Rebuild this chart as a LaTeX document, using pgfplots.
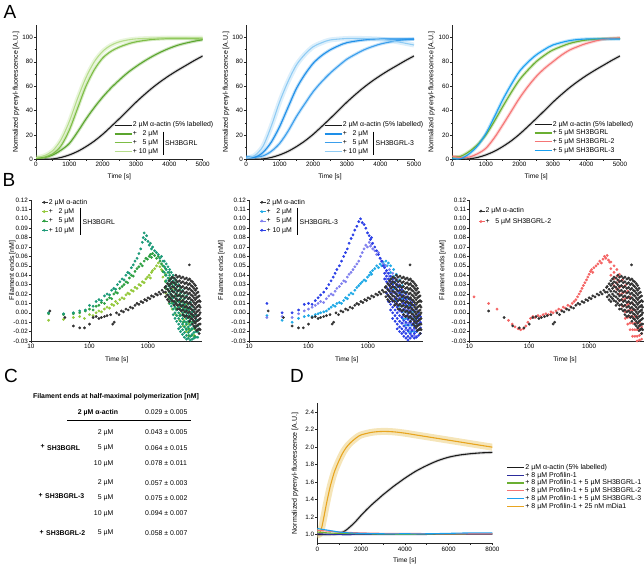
\documentclass[border=0pt]{standalone}
\usepackage{pgfplots}
\pgfplotsset{compat=1.18}
\usepackage{pgfplotstable}
\usepackage{fontspec}
\setmainfont{Liberation Sans}
\definecolor{ctrl}{HTML}{1A1A1A}
\definecolor{gA}{HTML}{5BA52E}\definecolor{gB}{HTML}{7DBD45}\definecolor{gC}{HTML}{B5DD8A}
\definecolor{bA}{HTML}{3A9EEC}\definecolor{bB}{HTML}{1E8FE8}\definecolor{bC}{HTML}{8FCBF3}
\definecolor{gT}{HTML}{6BAF32}\definecolor{rT}{HTML}{F57575}\definecolor{bT}{HTML}{1AA0F0}
\definecolor{kk}{HTML}{333333}
\definecolor{lA}{HTML}{95C93D}\definecolor{lB}{HTML}{2EA043}\definecolor{lC}{HTML}{1C9A78}
\definecolor{sA}{HTML}{1FA9E6}\definecolor{sB}{HTML}{8080EE}\definecolor{sC}{HTML}{2B3FE6}
\definecolor{rr}{HTML}{F46464}
\definecolor{dpro}{HTML}{2C2C9C}\definecolor{dor}{HTML}{E8A520}\definecolor{dband}{HTML}{F3DFA8}

\pgfplotsset{
 common/.style={scale only axis, anchor=south west, axis x line*=bottom, axis y line*=left,
  axis line style={-, line width=0.5pt, black!85}, tick align=outside,
  major tick length=2pt, minor tick length=1.2pt, every tick/.style={black!85, line width=0.4pt},
  tick label style={font=\fontsize{6.3}{7}\selectfont, inner sep=1pt},
  xlabel style={font=\fontsize{6.6}{7.5}\selectfont},
  ylabel style={font=\fontsize{7}{8}\selectfont},
  /pgf/number format/assume math mode=true, /pgf/number format/1000 sep={},
  legend style={draw=none, fill=none, inner sep=0pt, outer sep=0pt, row sep=1.2pt,
   font=\fontsize{6.9}{8}\selectfont, nodes={inner sep=0.5pt, text height=5pt, text depth=1.5pt}},
  legend cell align=left},
 Abase/.style={common, xmin=0, xmax=5000, ymin=0, ymax=110, xtick={0,1000,...,5000},
  ytick={0,20,...,100}, minor x tick num=1, minor y tick num=1, xlabel={Time [s]},
  ylabel={Normalized pyrenyl-fluorescence [A.U.]},
  legend image code/.code={\draw[##1, line width=1.3pt] (0pt,0pt) -- (17pt,0pt);}},
 Bbase/.style={common, xmin=10, xmax=8000, ymin=-0.03, ymax=0.12,
  xtick={10,100,1000}, xticklabels={10,100,1000},
  minor xtick={20,30,40,50,60,70,80,90,200,300,400,500,600,700,800,900,2000,3000,4000,5000,6000,7000,8000},
  ytick={-0.03,-0.02,-0.01,0,0.01,0.02,0.03,0.04,0.05,0.06,0.07,0.08,0.09,0.10,0.11,0.12},
  yticklabel style={/pgf/number format/.cd, fixed, fixed zerofill, precision=2},
  scaled y ticks=false, xlabel={Time [s]}, ylabel={Filament ends [nM]},
  legend style={row sep=1.8pt},
  legend image code/.code={\draw[##1] plot coordinates {(2pt,0pt)}; \path (0pt,0pt) -- (6pt,0pt);}},
 dot/.style={only marks, mark=*, mark size=1.2pt},
 band/.style={line width=3.2pt, opacity=0.3, smooth, forget plot},
 crv/.style={line width=1.1pt, smooth, forget plot},
}
\newcommand\blob[2]{\pgfplotsinvokeforeach{a,b,c,d,e,f,g,h,i,j}{\addplot[dot,#2,forget plot] table[x=t,y=##1]{#1};}}

% ---------- Panel A data ----------
\pgfplotstableread{
t v
0 0
250 0
500 0.3
750 1.5
1000 3.6
1250 6.5
1500 10.4
1750 15
2000 20.5
2250 26.8
2500 33.3
2750 40
3000 46.8
3250 53
3500 58.8
3750 64
4000 68.7
4250 73
4500 77
4750 81
5000 84.7
}\actin
\pgfplotstableread{
t v
0 1
250 1.5
500 3.5
750 7.5
1000 13
1250 22.5
1500 33
1750 42.5
2000 51
2250 58.5
2500 65
2750 71
3000 76
3250 80.5
3500 84.5
3750 88
4000 91
4250 93.5
4500 95.3
4750 96.8
5000 98
}\aGa
\pgfplotstableread{
t v
0 0.5
250 1.5
500 4.5
750 11
1000 24
1250 42
1500 60
1750 73.5
2000 83
2250 88.5
2500 92
2750 94.5
3000 96.3
3500 98.3
4000 99
4500 99
5000 98.7
}\aGb
\pgfplotstableread{
t v
0 1.5
250 3
500 7
750 16
1000 31
1250 50
1500 67
1750 80
2000 88.5
2250 93.5
2500 96.3
2750 97.8
3000 98.7
3500 99.3
4000 99.5
5000 99.5
}\aGc
\pgfplotstableread{
t v
0 2
250 1.8
500 2.7
750 6.5
1000 13
1250 23
1500 35
1750 45.5
2000 55.5
2250 63.5
2500 70.5
2750 76.5
3000 82
3250 86
3500 89.6
3750 92.3
4000 94.5
4250 96
4500 97.3
4750 98
5000 98.4
}\aBa
\pgfplotstableread{
t v
0 1.5
250 1.5
500 5.5
750 14
1000 26.8
1250 42.5
1500 58
1750 69.5
2000 78.7
2250 85
2500 89.6
2750 93
3000 95.6
3500 97.8
4000 98.6
5000 98.6
}\aBb
\pgfplotstableread{
t v
0 1
250 3
500 10.4
750 27
1000 47
1250 63.7
1500 77.3
1750 86
2000 92.3
2250 95.5
2500 97.8
3000 99
3500 99
4000 98.4
4500 96.4
5000 93.7
}\aBc
\pgfplotstableread{
t v
0 2
250 2.5
500 6.3
750 12
1000 20
1250 31
1500 43
1750 54.5
2000 65
2250 73
2500 80
2750 85.3
3000 89.6
3500 95
4000 97.8
4500 98.8
5000 99.2
}\aTg
\pgfplotstableread{
t v
0 2.5
250 1.5
500 1.8
750 4.5
1000 9
1250 17.5
1500 28
1750 39
2000 50
2250 59.5
2500 67.8
2750 74.5
3000 80
3250 85.3
3500 89.6
3750 92.5
4000 95
4500 98.4
5000 99.5
}\aTr
\pgfplotstableread{
t v
0 0.5
250 0.5
500 4.4
750 11
1000 21
1250 34.5
1500 48.6
1750 61
2000 72
2250 79.5
2500 85.5
2750 90
3000 93.7
3500 97.3
4000 98.6
5000 98.6
}\aTb

% ---------- Panel B data ----------
\pgfplotstableread[row sep=\\]{t v\\
21 0.002\\ 38 -0.005\\ 53 -0.014\\ 68 -0.016\\ 82 -0.016\\ 100 -0.012\\ 115 -0.005\\ 130 -0.004\\
145 -0.006\\ 160 -0.005\\ 180 -0.004\\ 200 -0.003\\ 230 -0.002\\ 250 -0.012\\ 265 -0.010\\ 290 0.000\\
320 -0.002\\ 350 0.002\\ 380 0.001\\ 420 0.004\\ 460 0.003\\ 500 0.006\\ 550 0.005\\ 600 0.008\\
650 0.010\\ 700 0.009\\ 760 0.012\\ 820 0.011\\ 880 0.014\\ 950 0.013\\ 1000 0.016\\ 1080 0.015\\
1150 0.018\\ 1250 0.017\\ 1350 0.020\\ 1450 0.019\\ 1550 0.022\\ 1650 0.020\\ 1750 0.024\\ 1850 0.022\\
1950 0.027\\ 5100 0.051\\}\kTr
\pgfplotstableread{
t a b c d e f g h i j
2000 0.028 0.022 0.017 nan nan nan nan nan nan nan
2150 0.031 0.025 0.019 0.014 nan nan nan nan nan nan
2300 0.034 0.029 0.023 0.017 0.012 nan nan nan nan nan
2450 0.036 0.031 0.026 0.020 0.015 nan nan nan nan nan
2600 0.038 0.033 0.028 0.023 0.018 0.013 nan nan nan nan
2800 0.037 0.032 0.027 0.022 0.017 0.012 0.008 nan nan nan
3000 0.040 0.035 0.030 0.025 0.020 0.015 0.010 nan nan nan
3200 0.038 0.033 0.028 0.023 0.018 0.013 0.008 0.004 nan nan
3450 0.039 0.034 0.029 0.024 0.019 0.014 0.009 0.004 nan nan
3700 0.037 0.032 0.027 0.022 0.017 0.012 0.007 0.002 nan nan
3950 0.038 0.033 0.028 0.023 0.018 0.013 0.008 0.003 -0.002 nan
4250 0.036 0.031 0.026 0.021 0.016 0.011 0.006 0.001 -0.004 nan
4550 0.037 0.032 0.027 0.022 0.017 0.012 0.007 0.002 -0.003 nan
4850 0.035 0.030 0.025 0.020 0.015 0.010 0.005 0.000 -0.005 nan
5150 0.036 0.031 0.026 0.021 0.016 0.011 0.006 0.001 -0.004 -0.009
5450 0.034 0.029 0.024 0.019 0.014 0.009 0.004 -0.001 -0.006 nan
5750 0.033 0.028 0.023 0.018 0.013 0.008 0.003 -0.002 -0.007 -0.012
6100 0.031 0.026 0.021 0.016 0.011 0.006 0.001 -0.004 -0.009 -0.014
6450 0.029 0.024 0.019 0.014 0.009 0.004 -0.001 -0.006 -0.011 -0.016
6800 0.026 0.021 0.016 0.011 0.006 0.001 -0.004 -0.009 -0.014 -0.019
7150 0.022 0.017 0.012 0.007 0.002 -0.003 -0.008 -0.013 -0.018 nan
7500 0.018 0.013 0.008 0.003 -0.002 -0.007 -0.012 -0.017 -0.022 nan
7800 0.012 0.006 0.000 -0.006 -0.012 -0.018 nan nan nan nan
}\kBl
% B1 light green 2 uM
\pgfplotstableread[row sep=\\]{t v\\
20 -0.008\\ 36 -0.007\\ 53 -0.005\\ 68 -0.004\\ 82 -0.006\\ 100 -0.002\\ 115 -0.003\\ 130 0.000\\
145 0.002\\ 160 0.001\\ 180 0.004\\ 200 0.006\\ 220 0.005\\ 240 0.009\\ 260 0.008\\ 280 0.012\\
300 0.010\\ 330 0.014\\ 360 0.016\\ 390 0.015\\ 420 0.019\\ 450 0.021\\ 480 0.020\\ 520 0.024\\
560 0.023\\ 600 0.027\\ 650 0.026\\ 700 0.030\\ 750 0.029\\ 800 0.033\\ 860 0.032\\ 920 0.036\\
980 0.038\\ 1050 0.040\\ 1100 0.037\\ 1150 0.043\\ 1200 0.045\\ 1300 0.047\\ 1400 0.050\\
1500 0.053\\ 1600 0.049\\ 1700 0.046\\}\lAt
\pgfplotstableread{
t a b c d e f g h i j
1800 0.044 0.038 nan nan nan nan nan nan nan nan
2000 0.041 0.034 0.027 0.021 nan nan nan nan nan nan
2300 0.037 0.030 0.023 0.016 0.010 nan nan nan nan nan
2600 0.032 0.025 0.018 0.011 0.004 nan nan nan nan nan
3000 0.026 0.019 0.012 0.005 -0.002 nan nan nan nan nan
3500 0.020 0.013 0.006 -0.001 -0.008 nan nan nan nan nan
4000 0.014 0.007 0.000 -0.007 -0.014 nan nan nan nan nan
4500 0.008 0.001 -0.006 -0.013 -0.020 nan nan nan nan nan
5000 0.002 -0.005 -0.012 -0.019 -0.025 nan nan nan nan nan
5600 -0.004 -0.011 -0.018 -0.024 nan nan nan nan nan nan
6200 -0.010 -0.017 -0.024 nan nan nan nan nan nan nan
}\lAb
% B1 green 5 uM
\pgfplotstableread[row sep=\\]{t v\\
20 -0.001\\ 36 -0.002\\ 53 -0.001\\ 68 0.000\\ 85 0.002\\ 100 0.004\\ 115 0.003\\ 130 0.007\\
145 0.008\\ 160 0.011\\ 180 0.010\\ 200 0.014\\ 220 0.016\\ 240 0.015\\ 260 0.020\\ 280 0.022\\
300 0.021\\ 330 0.026\\ 360 0.028\\ 390 0.030\\ 420 0.033\\ 450 0.032\\ 480 0.037\\ 520 0.040\\
560 0.039\\ 600 0.044\\ 650 0.047\\ 700 0.049\\ 750 0.052\\ 800 0.050\\ 860 0.055\\ 920 0.058\\
980 0.057\\ 1050 0.060\\ 1100 0.062\\ 1150 0.059\\ 1200 0.063\\ 1300 0.061\\ 1400 0.058\\
1500 0.060\\ 1600 0.055\\ 1700 0.052\\}\lBt
\pgfplotstableread{
t a b c d e f g h i j
1800 0.050 0.044 nan nan nan nan nan nan nan nan
2000 0.047 0.040 0.033 0.026 nan nan nan nan nan nan
2300 0.043 0.036 0.029 0.022 0.015 nan nan nan nan nan
2600 0.038 0.031 0.024 0.017 0.010 nan nan nan nan nan
3000 0.032 0.025 0.018 0.011 0.004 nan nan nan nan nan
3500 0.025 0.018 0.011 0.004 -0.003 nan nan nan nan nan
4000 0.018 0.011 0.004 -0.003 -0.010 nan nan nan nan nan
4500 0.011 0.004 -0.003 -0.010 -0.017 nan nan nan nan nan
5000 0.004 -0.003 -0.010 -0.017 -0.024 nan nan nan nan nan
5600 -0.003 -0.010 -0.017 -0.024 nan nan nan nan nan nan
6300 -0.010 -0.017 -0.025 nan nan nan nan nan nan nan
}\lBb
% B1 teal 10 uM
\pgfplotstableread[row sep=\\]{t v\\
20 0.000\\ 36 -0.001\\ 53 0.000\\ 68 0.002\\ 85 0.003\\ 100 0.008\\ 115 0.007\\ 130 0.012\\
145 0.014\\ 160 0.013\\ 180 0.018\\ 200 0.020\\ 220 0.019\\ 240 0.024\\ 260 0.026\\ 280 0.025\\
300 0.030\\ 330 0.033\\ 360 0.036\\ 390 0.035\\ 420 0.040\\ 450 0.043\\ 480 0.042\\ 520 0.048\\
560 0.051\\ 600 0.055\\ 650 0.058\\ 700 0.063\\ 750 0.068\\ 800 0.075\\ 830 0.080\\ 860 0.085\\
900 0.078\\ 950 0.082\\ 1000 0.076\\ 1050 0.072\\ 1100 0.074\\ 1150 0.068\\ 1200 0.070\\
1300 0.066\\ 1400 0.064\\ 1500 0.062\\ 1600 0.058\\ 1700 0.060\\ 1800 0.055\\}\lCt
\pgfplotstableread{
t a b c d e f g h i j
1900 0.055 0.049 0.043 nan nan nan nan nan nan nan
2050 0.052 0.046 0.040 0.034 0.028 nan nan nan nan nan
2200 0.049 0.043 0.037 0.031 0.025 0.019 nan nan nan nan
2350 0.046 0.040 0.034 0.028 0.022 0.016 0.010 nan nan nan
2500 0.043 0.037 0.031 0.025 0.019 0.013 0.007 nan nan nan
2700 0.040 0.034 0.028 0.022 0.016 0.010 0.004 -0.002 nan nan
2900 0.036 0.030 0.024 0.018 0.012 0.006 0.000 -0.006 nan nan
3100 0.033 0.027 0.021 0.015 0.009 0.003 -0.003 -0.009 nan nan
3350 0.030 0.024 0.018 0.012 0.006 0.000 -0.006 -0.012 -0.017 nan
3600 0.027 0.021 0.015 0.009 0.003 -0.003 -0.009 -0.015 -0.020 nan
3900 0.024 0.018 0.012 0.006 0.000 -0.006 -0.012 -0.018 -0.023 nan
4200 0.021 0.015 0.009 0.003 -0.003 -0.009 -0.015 -0.021 -0.026 nan
4550 0.018 0.012 0.006 0.000 -0.006 -0.012 -0.018 -0.024 -0.028 nan
4900 0.015 0.009 0.003 -0.003 -0.009 -0.015 -0.021 -0.027 nan nan
5300 0.011 0.005 -0.001 -0.007 -0.013 -0.019 -0.025 -0.029 nan nan
5700 0.007 0.001 -0.005 -0.011 -0.017 -0.023 -0.028 nan nan nan
6100 0.003 -0.003 -0.009 -0.015 -0.021 -0.027 nan nan nan nan
6600 -0.002 -0.008 -0.014 -0.020 -0.026 nan nan nan nan nan
7100 -0.008 -0.014 -0.020 -0.026 nan nan nan nan nan nan
}\lCb
% B2 sky 2 uM
\pgfplotstableread[row sep=\\]{t v\\
20 -0.003\\ 36 -0.008\\ 53 -0.010\\ 68 -0.006\\ 85 -0.004\\ 100 -0.003\\ 115 -0.004\\ 130 -0.002\\
145 -0.001\\ 160 0.000\\ 180 0.001\\ 200 0.002\\ 220 0.004\\ 240 0.006\\ 260 0.008\\ 280 0.007\\
300 0.010\\ 330 0.011\\ 360 0.010\\ 390 0.013\\ 420 0.016\\ 450 0.015\\ 480 0.019\\ 520 0.021\\
560 0.020\\ 600 0.024\\ 650 0.027\\ 700 0.029\\ 750 0.031\\ 800 0.033\\ 860 0.035\\ 920 0.034\\
980 0.038\\ 1050 0.040\\ 1100 0.043\\ 1150 0.041\\ 1200 0.045\\ 1300 0.047\\ 1400 0.050\\
1500 0.048\\ 1600 0.052\\ 1700 0.050\\ 1800 0.054\\ 1900 0.051\\ 2000 0.055\\ 2100 0.050\\ 2200 0.053\\}\sAt
\pgfplotstableread{
t a b c d e f g h i j
2400 0.050 0.043 0.036 nan nan nan nan nan nan nan
2700 0.046 0.039 0.032 0.025 nan nan nan nan nan nan
3000 0.041 0.034 0.027 0.020 0.013 nan nan nan nan nan
3400 0.035 0.028 0.021 0.014 0.007 nan nan nan nan nan
3800 0.029 0.022 0.015 0.008 0.001 -0.006 nan nan nan nan
4300 0.022 0.015 0.008 0.001 -0.006 -0.013 nan nan nan nan
4800 0.015 0.008 0.001 -0.006 -0.013 -0.020 nan nan nan nan
5400 0.008 0.001 -0.006 -0.013 -0.020 nan nan nan nan nan
6000 0.001 -0.006 -0.013 -0.020 nan nan nan nan nan nan
6600 -0.006 -0.013 -0.020 nan nan nan nan nan nan nan
}\sAb
% B2 lavender 5 uM
\pgfplotstableread[row sep=\\]{t v\\
20 -0.005\\ 36 -0.004\\ 53 -0.005\\ 68 -0.001\\ 85 0.002\\ 100 0.004\\ 115 0.006\\ 130 0.008\\
145 0.010\\ 160 0.012\\ 180 0.011\\ 200 0.015\\ 220 0.018\\ 240 0.020\\ 260 0.019\\ 280 0.023\\
300 0.026\\ 330 0.028\\ 360 0.031\\ 390 0.034\\ 420 0.033\\ 450 0.038\\ 480 0.041\\ 520 0.043\\
560 0.046\\ 600 0.049\\ 650 0.052\\ 700 0.055\\ 750 0.060\\ 800 0.064\\ 860 0.068\\ 920 0.072\\
980 0.070\\ 1050 0.075\\ 1100 0.071\\ 1150 0.073\\ 1200 0.068\\ 1300 0.066\\ 1400 0.062\\
1500 0.064\\ 1600 0.058\\ 1700 0.055\\ 1800 0.052\\}\sBt
\pgfplotstableread{
t a b c d e f g h i j
2000 0.050 0.043 0.036 nan nan nan nan nan nan nan
2300 0.046 0.039 0.032 0.025 nan nan nan nan nan nan
2600 0.042 0.035 0.028 0.021 0.014 nan nan nan nan nan
3000 0.036 0.029 0.022 0.015 0.008 nan nan nan nan nan
3400 0.030 0.023 0.016 0.009 0.002 nan nan nan nan nan
3800 0.024 0.017 0.010 0.003 -0.004 -0.011 nan nan nan nan
4300 0.017 0.010 0.003 -0.004 -0.011 -0.018 nan nan nan nan
4800 0.010 0.003 -0.004 -0.011 -0.018 nan nan nan nan nan
5400 0.003 -0.004 -0.011 -0.018 -0.024 nan nan nan nan nan
6000 -0.004 -0.011 -0.018 -0.024 nan nan nan nan nan nan
6600 -0.011 -0.018 -0.025 nan nan nan nan nan nan nan
}\sBb
% B2 blue 10 uM
\pgfplotstableread[row sep=\\]{t v\\
20 0.010\\ 36 0.000\\ 53 0.000\\ 68 0.003\\ 85 0.009\\ 100 0.010\\ 115 0.009\\ 130 0.013\\
145 0.016\\ 160 0.019\\ 180 0.022\\ 200 0.026\\ 220 0.030\\ 240 0.034\\ 260 0.038\\ 280 0.042\\
300 0.046\\ 330 0.050\\ 360 0.055\\ 390 0.060\\ 420 0.064\\ 450 0.068\\ 480 0.074\\ 520 0.079\\
560 0.083\\ 600 0.088\\ 650 0.092\\ 700 0.097\\ 750 0.100\\ 800 0.096\\ 860 0.094\\ 920 0.090\\
980 0.085\\ 1050 0.082\\ 1100 0.078\\ 1150 0.080\\ 1200 0.074\\ 1300 0.070\\ 1400 0.066\\
1500 0.062\\ 1600 0.058\\ 1700 0.055\\ 1800 0.050\\}\sCt
\pgfplotstableread{
t a b c d e f g h i j
1900 0.048 0.042 0.036 nan nan nan nan nan nan nan
2050 0.045 0.039 0.033 0.027 0.021 nan nan nan nan nan
2200 0.042 0.036 0.030 0.024 0.018 0.012 nan nan nan nan
2400 0.039 0.033 0.027 0.021 0.015 0.009 0.003 nan nan nan
2600 0.036 0.030 0.024 0.018 0.012 0.006 0.000 -0.006 nan nan
2850 0.033 0.027 0.021 0.015 0.009 0.003 -0.003 -0.009 nan nan
3100 0.030 0.024 0.018 0.012 0.006 0.000 -0.006 -0.012 -0.017 nan
3400 0.027 0.021 0.015 0.009 0.003 -0.003 -0.009 -0.015 -0.020 nan
3700 0.025 0.019 0.013 0.007 0.001 -0.005 -0.011 -0.017 -0.022 nan
4000 0.022 0.016 0.010 0.004 -0.002 -0.008 -0.014 -0.020 -0.025 nan
4350 0.020 0.014 0.008 0.002 -0.004 -0.010 -0.016 -0.022 -0.027 nan
4700 0.017 0.011 0.005 -0.001 -0.007 -0.013 -0.019 -0.025 -0.029 nan
5100 0.014 0.008 0.002 -0.004 -0.010 -0.016 -0.022 -0.027 nan nan
5500 0.011 0.005 -0.001 -0.007 -0.013 -0.019 -0.025 nan nan nan
6000 0.008 0.002 -0.004 -0.010 -0.016 -0.022 -0.027 nan nan nan
6500 0.004 -0.002 -0.008 -0.014 -0.020 -0.026 nan nan nan nan
7100 0.000 -0.006 -0.012 -0.018 -0.024 nan nan nan nan nan
7600 -0.004 -0.010 -0.016 -0.022 nan nan nan nan nan nan
}\sCb
% B3 red
\pgfplotstableread[row sep=\\]{t v\\
12 0.017\\ 21 0.010\\ 29 0.004\\ 45 -0.008\\ 52 -0.012\\ 58 -0.015\\ 65 -0.017\\ 72 -0.018\\
80 -0.017\\ 88 -0.014\\ 95 -0.010\\ 105 -0.006\\ 115 -0.004\\ 125 -0.005\\ 140 -0.003\\ 155 -0.004\\
170 -0.002\\ 190 -0.001\\ 210 -0.002\\ 230 0.001\\ 250 0.000\\ 280 0.002\\ 310 0.004\\ 340 0.003\\
370 0.006\\ 400 0.005\\ 440 0.008\\ 480 0.007\\ 520 0.010\\ 560 0.012\\ 600 0.014\\ 640 0.017\\
680 0.020\\ 720 0.023\\ 760 0.026\\ 800 0.029\\ 850 0.032\\ 900 0.035\\ 950 0.038\\ 1000 0.041\\
1050 0.044\\ 1100 0.046\\ 1150 0.043\\ 1200 0.048\\ 1300 0.050\\ 1400 0.052\\ 1500 0.055\\
1600 0.053\\ 1700 0.057\\ 1800 0.060\\ 1900 0.058\\ 2000 0.061\\ 2100 0.056\\ 2200 0.054\\}\rTt
\pgfplotstableread{
t a b c d e f g h i j
2300 0.054 0.047 0.040 nan nan nan nan nan nan nan
2600 0.050 0.043 0.036 0.029 nan nan nan nan nan nan
2900 0.046 0.039 0.032 0.025 nan nan nan nan nan nan
3200 0.041 0.034 0.027 0.020 0.013 nan nan nan nan nan
3600 0.035 0.028 0.021 0.014 0.007 nan nan nan nan nan
4000 0.029 0.022 0.015 0.008 0.001 -0.006 nan nan nan nan
4400 0.023 0.016 0.009 0.002 -0.005 -0.012 nan nan nan nan
4800 0.017 0.010 0.003 -0.004 -0.011 -0.018 nan nan nan nan
5300 0.010 0.003 -0.004 -0.011 -0.018 -0.025 nan nan nan nan
5800 0.003 -0.004 -0.011 -0.018 -0.025 nan nan nan nan nan
6300 -0.004 -0.011 -0.018 -0.025 -0.030 nan nan nan nan nan
6900 -0.010 -0.017 -0.024 -0.029 nan nan nan nan nan nan
7500 -0.015 -0.022 -0.028 nan nan nan nan nan nan nan
}\rTb

% ---------- Panel D data ----------
\pgfplotstableread{
t v
0 1.0
400 1.0
800 1.005
1000 1.015
1250 1.04
1500 1.09
1750 1.15
2000 1.22
2250 1.285
2500 1.345
2750 1.40
3000 1.455
3250 1.505
3500 1.555
3750 1.60
4000 1.645
4500 1.725
5000 1.79
5500 1.845
6000 1.885
6500 1.91
7000 1.925
7500 1.935
8000 1.94
}\dK
\pgfplotstableread{
t v
0 1.0
100 1.01
200 1.08
300 1.2
400 1.33
500 1.45
600 1.56
700 1.65
800 1.73
1000 1.85
1200 1.95
1400 2.02
1600 2.07
1800 2.11
2000 2.14
2500 2.17
3000 2.18
3500 2.175
4000 2.16
4500 2.14
5000 2.12
5500 2.10
6000 2.08
6500 2.06
7000 2.04
7500 2.02
8000 2.00
}\dO
\pgfplotstableread{
t v
0 1.07
250 1.06
500 1.05
750 1.04
1000 1.03
1500 1.02
2000 1.015
3000 1.01
4000 1.01
5000 1.01
6000 1.015
7000 1.02
8000 1.02
}\dB
\pgfplotstableread{
t v
0 1.05
500 1.04
1000 1.03
1500 1.025
2000 1.02
3000 1.015
4000 1.015
5000 1.012
6000 1.01
7000 1.01
8000 1.01
}\dR
\pgfplotstableread{
t v
0 1.03
500 1.02
1000 1.015
2000 1.01
4000 1.005
8000 1.01
}\dG
\pgfplotstableread{
t v
0 1.01
1000 1.0
2000 1.0
8000 1.005
}\dP

\begin{document}
\begin{tikzpicture}
\useasboundingbox (0pt,0pt) rectangle (644pt,-566pt);
\tikzset{panel/.style={font=\fontsize{19}{19}\selectfont}}
\node[panel] at (10pt,-12pt) {A};
\node[panel] at (9pt,-180pt) {B};
\node[panel] at (11pt,-376pt) {C};
\node[panel] at (297pt,-376pt) {D};

% ===== A1 =====
\begin{axis}[Abase, at={(36pt,-159.3pt)}, width=166.7pt, height=134.2pt,
  ylabel style={at={(axis description cs:-0.12,0.5)}, anchor=center},
  xlabel style={at={(axis description cs:0.5,-0.13)}, anchor=center},
  legend style={at={(axis description cs:0.468,0.282)}, anchor=north west}]
\addlegendimage{ctrl}\addlegendentry{2 µM α-actin (5\% labelled)}
\addlegendimage{gA}\addlegendentry{+ \phantom{1}2 µM}
\addlegendimage{gB}\addlegendentry{+ \phantom{1}5 µM}
\addlegendimage{gC}\addlegendentry{+ 10 µM}
\addplot[band, gray] table {\actin};
\addplot[band, gA] table {\aGa};
\addplot[band, gB] table {\aGb};
\addplot[band, gC, line width=4.5pt] table {\aGc};
\addplot[crv, ctrl] table {\actin};
\addplot[crv, gA] table {\aGa};
\addplot[crv, gB] table {\aGb};
\addplot[crv, gC] table {\aGc};
\end{axis}
\draw[line width=0.4pt] (163pt,-131.5pt) -- (163pt,-155pt);
\node[anchor=west, inner sep=0pt, font=\fontsize{6.9}{8}\selectfont] at (165pt,-143.3pt) {SH3BGRL};

% ===== A2 =====
\begin{axis}[Abase, at={(246pt,-159.3pt)}, width=168pt, height=134.2pt,
  ylabel style={at={(axis description cs:-0.119,0.5)}, anchor=center},
  xlabel style={at={(axis description cs:0.5,-0.13)}, anchor=center},
  legend style={at={(axis description cs:0.464,0.282)}, anchor=north west}]
\addlegendimage{ctrl}\addlegendentry{2 µM α-actin (5\% labelled)}
\addlegendimage{bB}\addlegendentry{+ \phantom{1}2 µM}
\addlegendimage{bA}\addlegendentry{+ \phantom{1}5 µM}
\addlegendimage{bC}\addlegendentry{+ 10 µM}
\addplot[band, gray] table {\actin};
\addplot[band, bA] table {\aBa};
\addplot[band, bB] table {\aBb};
\addplot[band, bC, line width=5pt] table {\aBc};
\addplot[crv, ctrl] table {\actin};
\addplot[crv, bA] table {\aBa};
\addplot[crv, bB] table {\aBb};
\addplot[crv, bC] table {\aBc};
\end{axis}
\draw[line width=0.4pt] (373.3pt,-131.5pt) -- (373.3pt,-155pt);
\node[anchor=west, inner sep=0pt, font=\fontsize{6.9}{8}\selectfont] at (375.5pt,-143.3pt) {SH3BGRL-3};

% ===== A3 =====
\begin{axis}[Abase, at={(452.3pt,-159.3pt)}, width=167.7pt, height=134.2pt,
  ylabel style={at={(axis description cs:-0.123,0.5)}, anchor=center},
  xlabel style={at={(axis description cs:0.5,-0.13)}, anchor=center},
  legend style={at={(axis description cs:0.487,0.289)}, anchor=north west}]
\addlegendimage{ctrl}\addlegendentry{2 µM α-actin (5\% labelled)}
\addlegendimage{gT}\addlegendentry{+ 5 µM SH3BGRL}
\addlegendimage{rT}\addlegendentry{+ 5 µM SH3BGRL-2}
\addlegendimage{bT}\addlegendentry{+ 5 µM SH3BGRL-3}
\addplot[band, gray] table {\actin};
\addplot[band, gT] table {\aTg};
\addplot[band, rT] table {\aTr};
\addplot[band, bT] table {\aTb};
\addplot[crv, ctrl] table {\actin};
\addplot[crv, gT] table {\aTg};
\addplot[crv, rT] table {\aTr};
\addplot[crv, bT] table {\aTb};
\end{axis}

% ===== B1 =====
\begin{semilogxaxis}[Bbase, at={(31pt,-341pt)}, width=169.8pt, height=141pt,
  ylabel style={at={(axis description cs:-0.11,0.5)}, anchor=center},
  xlabel style={at={(axis description cs:0.505,-0.13)}, anchor=center},
  legend style={at={(axis description cs:0.065,1.01)}, anchor=north west}]
\addlegendimage{dot, kk}\addlegendentry{2 µM α-actin}
\addlegendimage{dot, lA}\addlegendentry{+ \phantom{1}2 µM}
\addlegendimage{dot, lB}\addlegendentry{+ \phantom{1}5 µM}
\addlegendimage{dot, lC}\addlegendentry{+ 10 µM}
\addplot[dot, lA, forget plot] table {\lAt}; \blob{\lAb}{lA}
\addplot[dot, lB, forget plot] table {\lBt}; \blob{\lBb}{lB}
\addplot[dot, lC, forget plot] table {\lCt}; \blob{\lCb}{lC}
\addplot[dot, kk, forget plot] table {\kTr}; \blob{\kBl}{kk}
\end{semilogxaxis}
\draw[line width=0.4pt] (80pt,-207.5pt) -- (80pt,-235pt);
\node[anchor=west, inner sep=0pt, font=\fontsize{6.9}{8}\selectfont] at (82.5pt,-221.7pt) {SH3BGRL};

% ===== B2 =====
\begin{semilogxaxis}[Bbase, at={(249pt,-341pt)}, width=172.7pt, height=141pt,
  ylabel style={at={(axis description cs:-0.16,0.5)}, anchor=center},
  xlabel style={at={(axis description cs:0.566,-0.13)}, anchor=center},
  legend style={at={(axis description cs:0.062,1.01)}, anchor=north west}]
\addlegendimage{dot, kk}\addlegendentry{2 µM α-actin}
\addlegendimage{dot, sA}\addlegendentry{+ \phantom{1}2 µM}
\addlegendimage{dot, sB}\addlegendentry{+ \phantom{1}5 µM}
\addlegendimage{dot, sC}\addlegendentry{+ 10 µM}
\addplot[dot, sA, forget plot] table {\sAt}; \blob{\sAb}{sA}
\addplot[dot, sB, forget plot] table {\sBt}; \blob{\sBb}{sB}
\addplot[dot, sC, forget plot] table {\sCt}; \blob{\sCb}{sC}
\addplot[dot, kk, forget plot] table {\kTr}; \blob{\kBl}{kk}
\end{semilogxaxis}
\draw[line width=0.4pt] (297.3pt,-207.5pt) -- (297.3pt,-235pt);
\node[anchor=west, inner sep=0pt, font=\fontsize{6.9}{8}\selectfont] at (299.5pt,-221.7pt) {SH3BGRL-3};

% ===== B3 =====
\begin{semilogxaxis}[Bbase, at={(469.3pt,-341pt)}, width=174pt, height=141pt,
  ylabel style={at={(axis description cs:-0.153,0.5)}, anchor=center},
  xlabel style={at={(axis description cs:0.55,-0.13)}, anchor=center},
  legend style={at={(axis description cs:0.054,0.948)}, anchor=north west, row sep=3pt}]
\addlegendimage{dot, kk}\addlegendentry{2 µM α-actin}
\addlegendimage{dot, rr}\addlegendentry{+ \phantom{1}5 µM SH3BGRL-2}
\addplot[dot, rr, forget plot] table {\rTt}; \blob{\rTb}{rr}
\addplot[dot, kk, forget plot] table {\kTr}; \blob{\kBl}{kk}
\end{semilogxaxis}

% ===== C table =====
\begin{scope}[every node/.style={inner sep=0pt, font=\fontsize{6.9}{8}\selectfont}]
\node[font=\fontsize{6.9}{8}\selectfont\bfseries] at (116pt,-396.7pt) {Filament ends at half-maximal polymerization [nM]};
\node[font=\fontsize{6.9}{8}\selectfont\bfseries] at (98pt,-412.3pt) {2 µM α-actin};
\node[anchor=west] at (145pt,-412.3pt) {0.029 ± 0.005};
\draw[line width=0.8pt] (67pt,-420.7pt) -- (191pt,-420.7pt);
\node[anchor=east] at (113.5pt,-432.3pt) {2 µM};
\node[anchor=east] at (113.5pt,-448pt) {5 µM};
\node[anchor=east] at (113.5pt,-463.3pt) {10 µM};
\node[anchor=west] at (145pt,-432.3pt) {0.043 ± 0.005};
\node[anchor=west] at (145pt,-448pt) {0.064 ± 0.015};
\node[anchor=west] at (145pt,-463.3pt) {0.078 ± 0.011};
\node[font=\fontsize{6.9}{8}\selectfont\bfseries] at (42.7pt,-446.5pt) {+};
\node[anchor=west, font=\fontsize{6.9}{8}\selectfont\bfseries] at (47pt,-447.7pt) {SH3BGRL};
\node[anchor=east] at (113.5pt,-482.7pt) {2 µM};
\node[anchor=east] at (113.5pt,-498pt) {5 µM};
\node[anchor=east] at (113.5pt,-513.3pt) {10 µM};
\node[anchor=west] at (145pt,-482.7pt) {0.057 ± 0.003};
\node[anchor=west] at (145pt,-498pt) {0.075 ± 0.002};
\node[anchor=west] at (145pt,-513.3pt) {0.094 ± 0.007};
\node[font=\fontsize{6.9}{8}\selectfont\bfseries] at (40.7pt,-495pt) {+};
\node[anchor=west, font=\fontsize{6.9}{8}\selectfont\bfseries] at (45pt,-496.5pt) {SH3BGRL-3};
\node[font=\fontsize{6.9}{8}\selectfont\bfseries] at (41.7pt,-532.5pt) {+};
\node[anchor=west, font=\fontsize{6.9}{8}\selectfont\bfseries] at (46pt,-533pt) {SH3BGRL-2};
\node[anchor=east] at (113.5pt,-533pt) {5 µM};
\node[anchor=west] at (145pt,-533pt) {0.058 ± 0.007};
\end{scope}

% ===== D =====
\begin{axis}[common, at={(317.3pt,-543.4pt)}, width=175pt, height=140pt,
  xmin=0, xmax=8000, ymin=0.9, ymax=2.5, xtick={0,2000,...,8000}, minor x tick num=1,
  ytick={1.0,1.2,1.4,1.6,1.8,2.0,2.2,2.4},
  yticklabel style={/pgf/number format/.cd, fixed, fixed zerofill, precision=1},
  xlabel={Time [s]}, ylabel={Normalized pyrenyl-fluorescence [A.U.]},
  xlabel style={at={(axis description cs:0.5,-0.126)}, anchor=center},
  ylabel style={at={(axis description cs:-0.127,0.5)}, anchor=center},
  legend style={at={(axis description cs:1.082,0.567)}, anchor=north west, row sep=0.3pt,
    font=\fontsize{7}{8}\selectfont, nodes={inner sep=0.5pt, text height=5pt, text depth=1.4pt}},
  legend image code/.code={\draw[#1, line width=1.3pt] (0pt,0pt) -- (17pt,0pt);}]
\addlegendimage{ctrl}\addlegendentry{2 µM α-actin (5\% labelled)}
\addlegendimage{dpro}\addlegendentry{+ 8 µM Profilin-1}
\addlegendimage{gT}\addlegendentry{+ 8 µM Profilin-1 + 5 µM SH3BGRL-1}
\addlegendimage{rT}\addlegendentry{+ 8 µM Profilin-1 + 5 µM SH3BGRL-2}
\addlegendimage{bT}\addlegendentry{+ 8 µM Profilin-1 + 5 µM SH3BGRL-3}
\addlegendimage{dor}\addlegendentry{+ 8 µM Profilin-1 + 25 nM mDia1}
\addplot[band, dband, opacity=0.8, line width=7pt] table {\dO};
\addplot[band, gray, line width=3pt] table {\dK};
\addplot[crv, dor] table {\dO};
\addplot[crv, ctrl] table {\dK};
\addplot[crv, dpro] table {\dP};
\addplot[crv, gT] table {\dG};
\addplot[crv, rT] table {\dR};
\addplot[crv, bT] table {\dB};
\end{axis}
\end{tikzpicture}
\end{document}
